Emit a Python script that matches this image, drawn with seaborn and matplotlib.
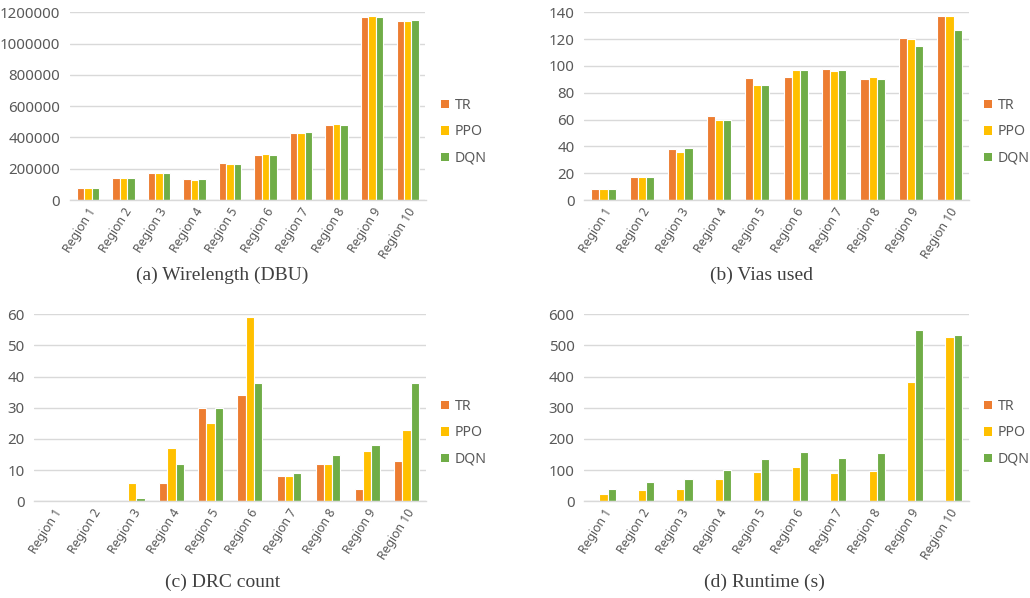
import pandas as pd
import matplotlib.pyplot as plt
from matplotlib.patches import Patch
import seaborn as sns

regions = [f"Region {i}" for i in range(1, 11)]
methods = ["TR", "PPO", "DQN"]
colors = ["#ED7D31", "#FFC000", "#70AD47"]

# (a) Wirelength (DBU)
wl_tr = [79000, 139000, 170000, 132000, 234000, 290000, 430000, 482000, 1172000, 1145000]
wl_ppo = [79000, 139000, 174000, 128000, 228000, 294000, 430000, 486000, 1176000, 1147000]
wl_dqn = [79000, 139000, 170000, 132000, 230000, 290000, 433000, 482000, 1172000, 1151000]

# (b) Vias used
via_tr = [8, 17, 38, 63, 91, 92, 98, 90, 121, 137]
via_ppo = [8, 17, 36, 60, 86, 97, 96, 92, 120, 137]
via_dqn = [8, 17, 39, 60, 86, 97, 97, 90, 115, 127]

# (c) DRC count
drc_tr = [0, 0, 0, 6, 30, 34, 8, 12, 4, 13]
drc_ppo = [0, 0, 6, 17, 25, 59, 8, 12, 16, 23]
drc_dqn = [0, 0, 1, 12, 30, 38, 9, 15, 18, 38]

# (d) Runtime (s) - no TR bars shown
rt_tr = [0, 0, 0, 0, 0, 0, 0, 0, 0, 0]
rt_ppo = [24, 36, 41, 70, 95, 110, 90, 98, 384, 527]
rt_dqn = [40, 63, 72, 101, 135, 157, 138, 156, 551, 534]


def to_long(tr, ppo, dqn):
    rows = []
    for name, vals in zip(methods, (tr, ppo, dqn)):
        for reg, v in zip(regions, vals):
            rows.append({"region": reg, "method": name, "value": v})
    return pd.DataFrame(rows)


sns.set_theme(style="white")
plt.rcParams["font.family"] = ["Noto Sans", "DejaVu Sans"]

W, H = 1030, 598
fig = plt.figure(figsize=(W / 100, H / 100), dpi=100)

panels = [
    # data, yticks, caption, axes px box (l, t, r, b), legend px (x, y), caption px (x, y)
    (to_long(wl_tr, wl_ppo, wl_dqn), list(range(0, 1200001, 200000)),
     "(a) Wirelength (DBU)", (70, 12.3, 425.5, 200), (441, 132), (222, 275)),
    (to_long(via_tr, via_ppo, via_dqn), list(range(0, 141, 20)),
     "(b) Vias used", (584.3, 12.3, 968.7, 200), (984, 132), (762, 275)),
    (to_long(drc_tr, drc_ppo, drc_dqn), list(range(0, 61, 10)),
     "(c) DRC count", (34.3, 314.3, 426, 501.3), (441, 433), (223, 582)),
    (to_long(rt_tr, rt_ppo, rt_dqn), list(range(0, 601, 100)),
     "(d) Runtime (s)", (584.3, 314.3, 968.7, 501.3), (984, 433), (764, 582)),
]

text_gray = "#595959"
grid_gray = "#D9D9D9"

for df, yticks, caption, box, leg_pos, cap_pos in panels:
    l, t, r, b = box
    ax = fig.add_axes([l / W, 1 - b / H, (r - l) / W, (b - t) / H])
    sns.barplot(data=df, x="region", y="value", hue="method", palette=colors,
                saturation=1, width=0.63, edgecolor="white", linewidth=0.8,
                errorbar=None, legend=False, ax=ax)
    ax.set_xlim(-0.5, 9.5)
    ax.set_ylim(yticks[0], yticks[-1])
    ax.set_yticks(yticks)
    ax.set_yticklabels([str(v) for v in yticks])
    ax.set_xlabel("")
    ax.set_ylabel("")
    ax.set_axisbelow(True)
    ax.yaxis.grid(True, color=grid_gray, linewidth=1)
    for side in ["top", "right", "left"]:
        ax.spines[side].set_visible(False)
    ax.spines["bottom"].set_color(grid_gray)
    ax.spines["bottom"].set_linewidth(1)
    ax.tick_params(axis="y", length=0, pad=7, labelsize=10.8, labelcolor=text_gray)
    ax.tick_params(axis="x", length=0, pad=4, labelsize=8.8, labelcolor=text_gray)
    for lab in ax.get_xticklabels():
        lab.set_rotation(58)
        lab.set_ha("right")
        lab.set_va("top")
        lab.set_rotation_mode("anchor")

    handles = [Patch(facecolor=c, edgecolor="none") for c in colors]
    fig.legend(handles, methods, loc="center left",
               bbox_to_anchor=(leg_pos[0] / W, 1 - leg_pos[1] / H),
               frameon=False, fontsize=10.2, labelcolor=text_gray,
               handlelength=0.55, handleheight=0.55, handletextpad=0.4,
               labelspacing=0.8, borderpad=0, borderaxespad=0)

    fig.text(cap_pos[0] / W, 1 - cap_pos[1] / H, caption, ha="center", va="center",
             fontsize=14, family=["Liberation Serif", "DejaVu Serif"], color="#404040")

fig.savefig("out.png", dpi=100)
